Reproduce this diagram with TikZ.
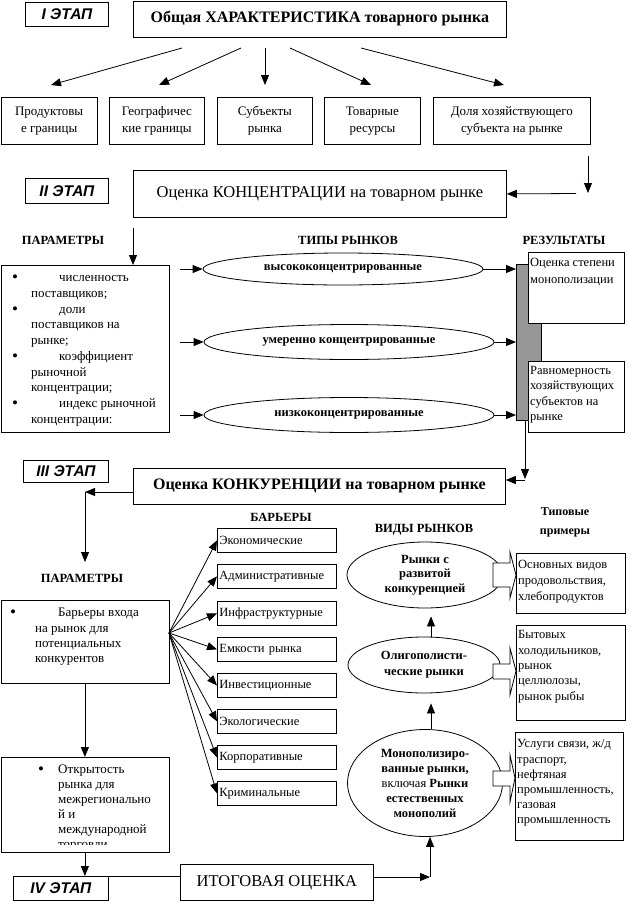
\documentclass[tikz,border=0pt]{standalone}
\usepackage{fontspec}
\setmainfont{Liberation Serif}
\setsansfont{Liberation Sans}
\usetikzlibrary{arrows.meta,shapes.geometric,calc}
\definecolor{barg}{RGB}{150,150,150}
\newcommand{\mybul}[2]{\llap{\makebox[#1][l]{\raisebox{-0.5pt}{\fontsize{17}{17}\selectfont •}}}\hspace*{#2}}
\tikzset{
  bx/.style={draw, line width=0.8pt, inner sep=2pt, anchor=north west},
  stg/.style={bx, font=\sffamily\bfseries\itshape\fontsize{15.5}{17}\selectfont},
  arr/.style={-{Triangle[length=10pt,width=8pt]}, line width=0.8pt},
  ln/.style={line width=0.8pt},
  el/.style={draw, ellipse, line width=0.8pt, inner sep=0pt, fill=white, align=center, font=\bfseries\fontsize{12.5}{14.5}\selectfont},
  txt/.style={anchor=north west, inner sep=0pt, align=left, font=\fontsize{13}{15.3}\selectfont},
  hd/.style={inner sep=0pt, font=\bfseries\fontsize{12.5}{15}\selectfont},
  rowbox/.style={bx, align=center, minimum height=47pt, font=\fontsize{13}{17}\selectfont},
  barbox/.style={bx, minimum width=119pt, minimum height=24pt, text width=115pt, align=left, font=\fontsize{12.5}{14}\selectfont},
}
\begin{document}
\begin{tikzpicture}[x=1pt,y=-1pt]
\useasboundingbox (0,0) rectangle (638,903);
% ---------- Stage I
\node[stg, minimum width=83pt, minimum height=24pt] (s1) at (25,2) {I ЭТАП};
\node[bx, minimum width=373pt, minimum height=36pt, font=\bfseries\fontsize{16}{18}\selectfont] (t1) at (133,0.5) {Общая ХАРАКТЕРИСТИКА товарного рынка};
\node[rowbox, minimum width=96.5pt] (r1) at (0.5,97) {Продуктовы\\е границы};
\node[rowbox, minimum width=95pt] (r2) at (109,97) {Географичес\\кие границы};
\node[rowbox, minimum width=95pt] (r3) at (217,97) {Субъекты\\рынка};
\node[rowbox, minimum width=96pt] (r4) at (324,97) {Товарные\\ресурсы};
\node[rowbox, minimum width=157pt] (r5) at (433,97) {Доля хозяйствующего\\субъекта на рынке};
\foreach \i/\xa/\xb in {1/182/51, 2/241/159, 3/265/265, 4/290/371, 5/361/504}{
  \coordinate (as\i) at (\xa,48); \coordinate (ae\i) at (\xb,85);
  \draw[arr] (as\i) -- (ae\i);
}
% ---------- Stage II
\node[stg, minimum width=83pt, minimum height=25pt] (s2) at (25,178) {II ЭТАП};
\node[bx, minimum width=373pt, minimum height=47pt, font=\fontsize{16.5}{18}\selectfont] (t2) at (133,170) {Оценка КОНЦЕНТРАЦИИ на товарном рынке};
\coordinate (c2a) at (588,156); \coordinate (c2b) at (588,193);
\draw[arr] (c2a) -- (c2b);
\coordinate (c2c) at (576,193.5);
\draw[arr] (c2c) -- (t2.east);
\node[bx, minimum width=168.5pt, minimum height=167pt] (p1) at (0.5,265) {};
\coordinate (c2d) at (133,228);
\draw[arr] (c2d) -- (c2d |- p1.north);
\node[hd] (h1) at (63,240) {ПАРАМЕТРЫ};
\node[hd] (h2) at (348,240) {ТИПЫ РЫНКОВ};
\node[hd] (h3) at (564,240) {РЕЗУЛЬТАТЫ};
\node[txt, font=\fontsize{13}{15.2}\selectfont] (p1t) at (31,271) {\strut\mybul{19pt}{28pt}численность\\поставщиков;\\[1.5pt]
\mybul{19pt}{28pt}доли\\поставщиков на\\рынке;\\[1.5pt]
\mybul{19pt}{28pt}коэффициент\\рыночной\\концентрации;\\[1.5pt]
\mybul{19pt}{28pt}индекс рыночной\\концентрации:};
\node[el, minimum width=280pt, minimum height=32pt] (e1) at (343,269) {высококонцентрированные};
\node[el, minimum width=290pt, minimum height=35pt] (e2) at (349,342) {умеренно концентрированные};
\node[el, minimum width=290pt, minimum height=35pt] (e3) at (349,415) {низкоконцентрированные};
\node[draw, fill=barg, line width=0.8pt, anchor=north west, inner sep=0pt, minimum width=25pt, minimum height=156pt] (bar) at (516,264) {};
\foreach \e in {e1,e2,e3}{
  \coordinate (in\e) at (180,0);
  \draw[arr] (in\e |- \e.west) -- (\e.west);
  \draw[arr] (\e.east) -- (\e.east -| bar.west);
}
\node[bx, fill=white, minimum width=96pt, minimum height=71pt] (rb1) at (528,252) {};
\node[txt, font=\fontsize{12.5}{17}\selectfont] (rb1t) at (530,254) {\strut Оценка степени\\монополизации};
\node[bx, fill=white, minimum width=96pt, minimum height=71pt] (rb2) at (528,361) {};
\node[txt, font=\fontsize{12.5}{15.5}\selectfont] (rb2t) at (530,363) {\strut Равномерность\\хозяйствующих\\субъектов на\\рынке};
% ---------- Stage III
\node[stg, minimum width=85pt, minimum height=22pt] (s3) at (23,460) {III ЭТАП};
\node[bx, minimum width=372pt, minimum height=36pt, font=\bfseries\fontsize{16}{18}\selectfont] (t3) at (133,468) {Оценка КОНКУРЕНЦИИ на товарном рынке};
\coordinate (c3t) at ($(bar.south west)+(9,0)$);
\coordinate (c3a) at (525,479);
\coordinate (c3b) at (525,480);
\draw[arr] (c3t) -- (c3a);
\draw[arr] (c3b) -- (c3b -| t3.east);
\coordinate (c3c) at (85,492);
\coordinate (c3d) at (85,562);
\draw[arr] (c3c -| t3.west) -- (c3c);
\draw[arr] (c3c) -- (c3d);
\node[hd] (h4) at (82,578) {ПАРАМЕТРЫ};
\node[hd] (h5) at (281,517) {БАРЬЕРЫ};
\node[hd] (h6) at (424,530) {ВИДЫ РЫНКОВ};
\node[hd, align=center, font=\bfseries\fontsize{12}{19}\selectfont] (h7) at (565,522) {Типовые\\примеры};
\node[bx, minimum width=168pt, minimum height=83pt] (p2) at (0.5,600) {};
\node[txt] (p2t) at (35,606) {\strut\mybul{25pt}{23pt}Барьеры входа\\на рынок для\\потенциальных\\конкурентов};
\coordinate (fan) at (169,633);
\foreach \i/\y/\t in {1/528/Экономические, 2/564/Административные, 3/601/Инфраструктурные, 4/637/Емкости рынка, 5/673/Инвестиционные, 6/709/Экологические, 7/745/Корпоративные, 8/781/Криминальные}{
  \node[barbox] (b\i) at (217,\y) {\t};
  \draw[arr] (fan) -- (b\i.west);
}
\node[bx, minimum width=168pt, minimum height=95pt] (p3) at (0.5,757) {};
\draw[arr] (p2.south) -- (p3.north);
\begin{scope}
\clip (0,757) rectangle (169,844);
\node[txt, font=\fontsize{13}{15}\selectfont] (p3t) at (58,763) {\strut\mybul{20pt}{0pt}Открытость\\рынка для\\межрегионально\\й и\\международной\\торговли};
\end{scope}
\node[stg, minimum width=95pt, minimum height=24pt] (s4) at (13,876) {IV ЭТАП};
\draw[arr] (p3.south) -- (p3.south |- s4.north);
\node[bx, minimum width=193pt, minimum height=36pt, font=\fontsize{16.5}{18}\selectfont] (it) at (180,864) {ИТОГОВАЯ ОЦЕНКА};
\draw[ln] (s4.north east) -- (s4.north east -| it.west);
% market kinds
\node[el, minimum width=156pt, minimum height=66pt] (eA) at (425,575) {Рынки с\\развитой\\конкуренцией};
\node[el, minimum width=152pt, minimum height=56pt, font=\bfseries\fontsize{12.5}{16}\selectfont] (eB) at (424,665) {Олигополисти-\\ческие рынки};
\node[el, minimum width=155pt, minimum height=107pt, font=\bfseries\fontsize{12.5}{15}\selectfont] (eC) at (425,783) {Монополизиро-\\ванные рынки,\\{\mdseries включая} Рынки\\естественных\\монополий};
\coordinate (vx) at (431,0);
\draw[arr] (eB.north -| vx) -- ($(eA.south -| vx)+(0,8)$);
\draw[arr] (eC.north -| vx) -- ($(eB.south -| vx)+(0,10)$);
\coordinate (c4) at (430,877);
\draw[arr] (it.east |- c4) -- (c4);
\draw[arr] (c4) -- (c4 |- eC.south);
% examples
\node[bx, minimum width=109pt, minimum height=60pt] (xA) at (516,553) {};
\node[txt, font=\fontsize{12.5}{16}\selectfont] (xAt) at (518,557) {\strut Основных видов\\продовольствия,\\хлебопродуктов};
\node[bx, minimum width=109pt, minimum height=95pt] (xB) at (516,625) {};
\node[txt, font=\fontsize{12.5}{15.3}\selectfont] (xBt) at (518,628) {\strut Бытовых\\холодильников,\\рынок\\целлюлозы,\\рынок рыбы};
\node[bx, minimum width=108pt, minimum height=108pt] (xC) at (515,732) {};
\node[txt, font=\fontsize{12.5}{15.2}\selectfont] (xCt) at (517,737) {\strut Услуги связи, ж/д\\траспорт,\\нефтяная\\промышленность,\\газовая\\промышленность};
% block arrows
\draw[ln, fill=white] (493,563) -- (510,563) -- (510,552) -- (xA.west |- 0,575) -- (510,598) -- (510,587) -- (493,587) -- cycle;
\draw[ln, fill=white] (493,664) -- (510,664) -- (510,648) -- (xB.west |- 0,671) -- (510,695) -- (510,679) -- (493,679) -- cycle;
\draw[ln, fill=white] (493,771) -- (510,771) -- (510,755) -- (xC.west |- 0,778) -- (510,802) -- (510,786) -- (493,786) -- cycle;
\end{tikzpicture}
\end{document}
